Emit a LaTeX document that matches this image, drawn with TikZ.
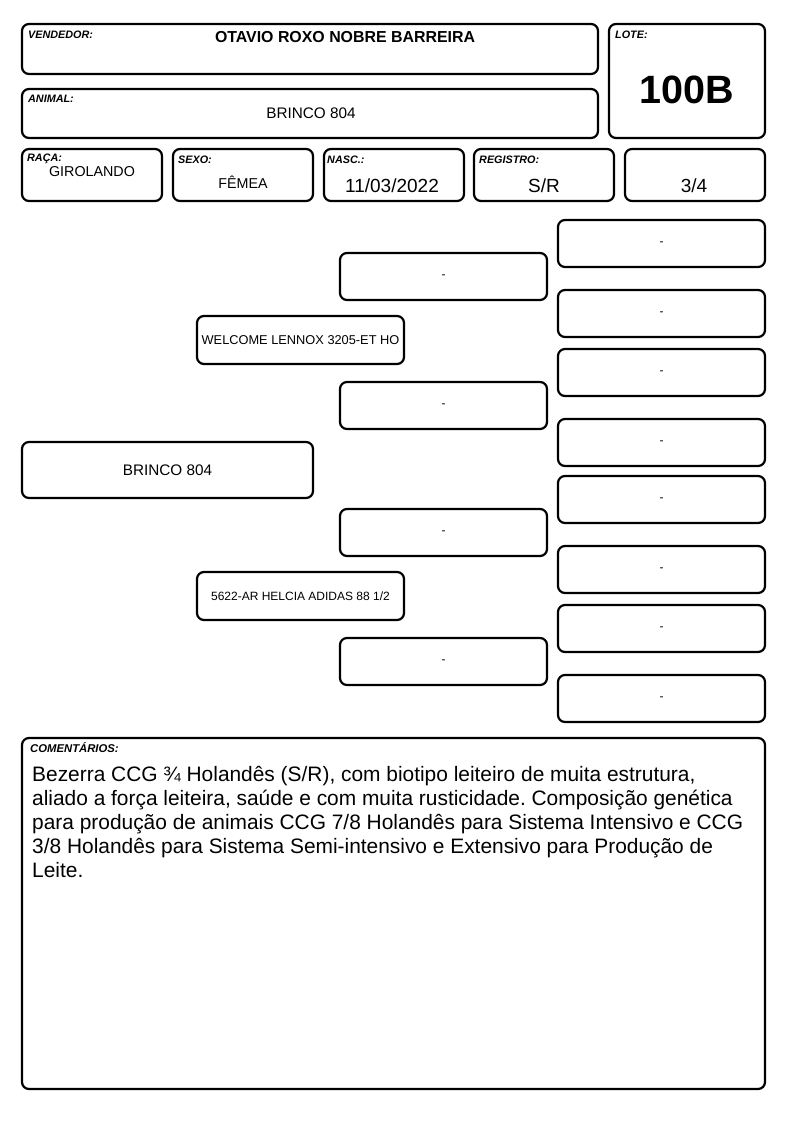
\documentclass[tikz,border=0pt]{standalone}
\usepackage{fontspec}
\setmainfont{Liberation Sans}
\frenchspacing
\begin{document}
\begin{tikzpicture}[x=1pt,y=-1pt,
  box/.style={draw=black, line width=2.2pt, rounded corners=7pt, anchor=north west, inner sep=0pt, outer sep=0pt},
  lbl/.style={anchor=base west, inner sep=0pt, font=\fontsize{10.8}{12}\selectfont\bfseries\itshape},
  val/.style={anchor=base, inner sep=0pt, font=\fontsize{14.3}{16}\selectfont},
  big/.style={anchor=base, inner sep=0pt, font=\fontsize{19}{21}\selectfont},
  ped/.style={box, minimum width=207pt, minimum height=47pt, font=\fontsize{12}{14}\selectfont},
]
\useasboundingbox[fill=white] (0,0) rectangle (794,1123);

% header boxes
\node[box, minimum width=576pt, minimum height=50pt] (vend) at (22,24) {};
\node[box, minimum width=576pt, minimum height=49pt] (anim) at (22,89) {};
\node[box, minimum width=156pt, minimum height=114pt] (lote) at (609,24) {};
\node[box, minimum width=140pt, minimum height=52pt] (raca) at (22,149) {};
\node[box, minimum width=140pt, minimum height=52pt] (sexo) at (173,149) {};
\node[box, minimum width=140pt, minimum height=52pt] (nasc) at (324,149) {};
\node[box, minimum width=140pt, minimum height=52pt] (reg) at (474,149) {};
\node[box, minimum width=140pt, minimum height=52pt] (frac) at (625,149) {};

% header texts
\node[lbl] (vendl) at (28,39) {VENDEDOR:};
\node[anchor=base, inner sep=0pt, font=\fontsize{15.9}{17}\selectfont\bfseries] (vendv) at (345,43) {OTAVIO ROXO NOBRE BARREIRA};
\node[lbl] (lotel) at (615,39) {LOTE:};
\node[anchor=base, inner sep=0pt, font=\fontsize{39.5}{42}\selectfont\bfseries] (lotev) at (687,104) {100B};
\node[lbl] (animl) at (28,103) {ANIMAL:};
\node[anchor=base, inner sep=0pt, font=\fontsize{15.3}{17}\selectfont] (animv) at (311,119) {BRINCO 804};
\node[lbl] (racal) at (27,162) {RAÇA:};
\node[val] (racav) at (92,177) {GIROLANDO};
\node[lbl] (sexol) at (178,164) {SEXO:};
\node[val] (sexov) at (243,189) {FÊMEA};
\node[lbl] (nascl) at (327,164) {NASC.:};
\node[big] (nascv) at (392,193) {11/03/2022};
\node[lbl] (regl) at (479,164) {REGISTRO:};
\node[big] (regv) at (544,193) {S/R};
\node[big] (fracv) at (694,193) {3/4};

% pedigree
\node[box, minimum width=291pt, minimum height=56pt, font=\fontsize{15.3}{17}\selectfont] (self) at (22,442) {BRINCO 804};
\node[ped, minimum height=48pt, font=\fontsize{12.8}{14}\selectfont] (sire) at (197,316) {WELCOME LENNOX 3205-ET HO};
\node[ped, minimum height=48pt] (dam) at (197,572) {5622-AR HELCIA ADIDAS 88 1/2};
\node[ped] (ss) at (340,253) {-};
\node[ped] (sd) at (340,382) {-};
\node[ped] (ds) at (340,509) {-};
\node[ped] (dd) at (340,638) {-};
\node[ped] (sss) at (558,220) {-};
\node[ped] (ssd) at (558,290) {-};
\node[ped] (sds) at (558,349) {-};
\node[ped] (sdd) at (558,419) {-};
\node[ped] (dss) at (558,476) {-};
\node[ped] (dsd) at (558,546) {-};
\node[ped] (dds) at (558,605) {-};
\node[ped] (ddd) at (558,675) {-};

% comments
\node[box, minimum width=743pt, minimum height=351pt] (com) at (22,738) {};
\node[anchor=base west, inner sep=0pt, font=\fontsize{11.3}{12}\selectfont\bfseries\itshape] (coml) at (30,752) {COMENTÁRIOS:};
\node[anchor=north west, inner sep=0pt, align=left, font=\fontsize{20.9}{24}\selectfont] (comv) at (32,764.2)
 {\strut Bezerra CCG ¾ Holandês (S/R), com biotipo leiteiro de muita estrutura,\\
  aliado a força leiteira, saúde e com muita rusticidade. Composição genética\\
  para produção de animais CCG 7/8 Holandês para Sistema Intensivo e CCG\\
  3/8 Holandês para Sistema Semi-intensivo e Extensivo para Produção de\\
  Leite.};
\end{tikzpicture}
\end{document}
